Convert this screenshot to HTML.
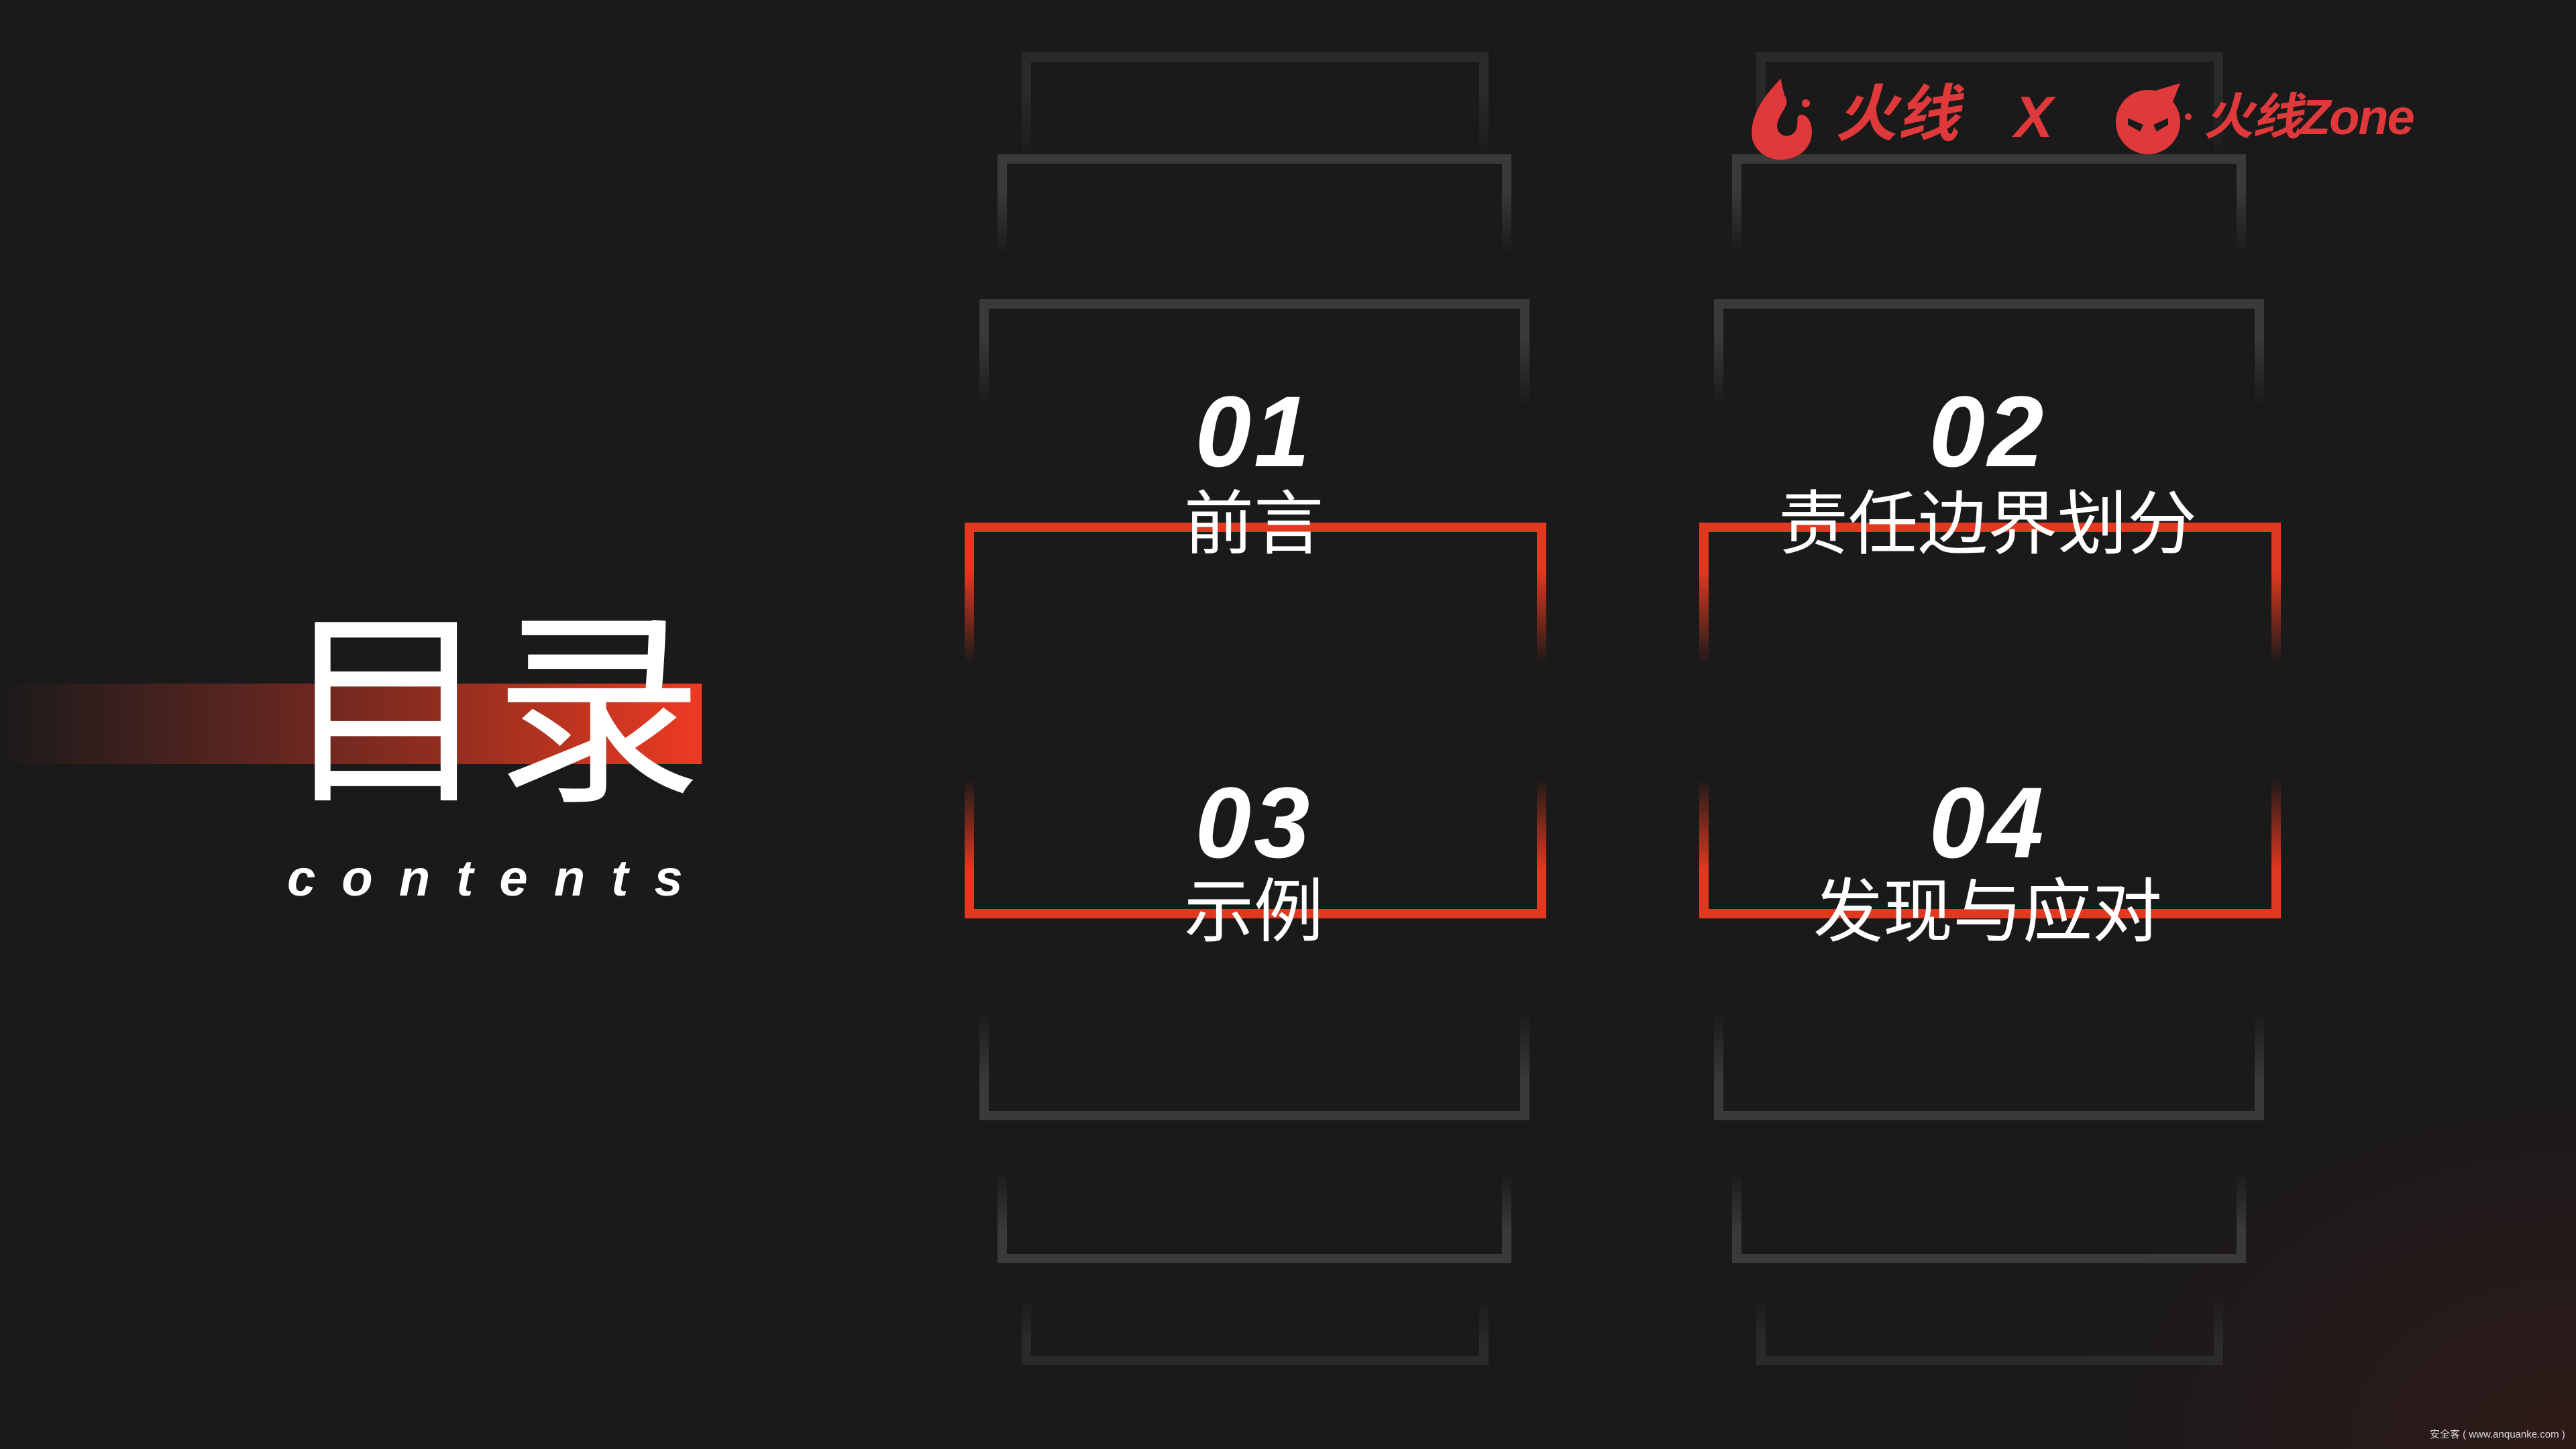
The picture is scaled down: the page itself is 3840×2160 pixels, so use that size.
<!DOCTYPE html>
<html><head><meta charset="utf-8"><style>
html,body{margin:0;padding:0}
body{width:3840px;height:2160px;position:relative;overflow:hidden;background:#1a1a1a;font-family:"Liberation Sans","Noto Sans CJK SC",sans-serif}
.bg{position:absolute;inset:0;background:radial-gradient(ellipse 800px 600px at 3840px 2160px,rgba(70,28,24,.45),rgba(26,26,26,0) 100%)}
.b{position:absolute;box-sizing:border-box;border:14px solid #3a3a3a}
.t{border-bottom:none;-webkit-mask-image:linear-gradient(to bottom,#000 0%,#000 35%,transparent 100%);mask-image:linear-gradient(to bottom,#000 0%,#000 35%,transparent 100%)}
.u{border-top:none;-webkit-mask-image:linear-gradient(to top,#000 0%,#000 35%,transparent 100%);mask-image:linear-gradient(to top,#000 0%,#000 35%,transparent 100%)}
.r{border-color:#e0391f}
.dim{border-color:#2a2a2a}
.num{position:absolute;color:#fff;font-weight:bold;font-style:italic;font-size:150px;line-height:1;text-align:center;width:900px;letter-spacing:4px}
.cn{position:absolute;color:#fff;font-size:104px;line-height:1;text-align:center;width:900px}
</style></head><body>
<div class="bg"></div>
<div style="position:absolute;left:0;top:1019px;width:1046px;height:120px;background:linear-gradient(to right,rgba(60,25,22,0),#5a2520 35%,#a0301f 70%,#ee3a22)"></div>
<div style="position:absolute;left:420px;top:878px;color:#fff;font-size:312px;line-height:1;font-family:'Noto Sans CJK SC',sans-serif;letter-spacing:4px">目录</div>
<div style="position:absolute;left:428px;top:1272px;color:#fff;font-size:76px;font-weight:bold;font-style:italic;letter-spacing:39px;line-height:1">contents</div>

<!-- column 1 -->
<div class="b t dim" style="left:1523px;top:78px;width:696px;height:170px"></div>
<div class="b t" style="left:1487px;top:230px;width:766px;height:150px"></div>
<div class="b t" style="left:1460px;top:446px;width:820px;height:160px"></div>
<div class="b t r" style="left:1438px;top:779px;width:867px;height:210px"></div>
<div class="b u r" style="left:1438px;top:1160px;width:867px;height:209px"></div>
<div class="b u" style="left:1460px;top:1506px;width:820px;height:164px"></div>
<div class="b u" style="left:1487px;top:1745px;width:766px;height:138px"></div>
<div class="b u dim" style="left:1523px;top:1930px;width:696px;height:105px"></div>
<!-- column 2 -->
<div class="b t dim" style="left:2618px;top:78px;width:696px;height:170px"></div>
<div class="b t" style="left:2582px;top:230px;width:766px;height:150px"></div>
<div class="b t" style="left:2555px;top:446px;width:820px;height:160px"></div>
<div class="b t r" style="left:2533px;top:779px;width:867px;height:210px"></div>
<div class="b u r" style="left:2533px;top:1160px;width:867px;height:209px"></div>
<div class="b u" style="left:2555px;top:1506px;width:820px;height:164px"></div>
<div class="b u" style="left:2582px;top:1745px;width:766px;height:138px"></div>
<div class="b u dim" style="left:2618px;top:1930px;width:696px;height:105px"></div>

<div class="num" style="left:1419px;top:568px">01</div>
<div class="cn" style="left:1419px;top:730px">前言</div>
<div class="num" style="left:2513px;top:568px">02</div>
<div class="cn" style="left:2513px;top:730px">责任边界划分</div>
<div class="num" style="left:1419px;top:1151px">03</div>
<div class="cn" style="left:1419px;top:1308px">示例</div>
<div class="num" style="left:2513px;top:1151px">04</div>
<div class="cn" style="left:2513px;top:1308px">发现与应对</div>

<!-- logo -->
<svg style="position:absolute;left:2600px;top:112px" width="110" height="130" viewBox="0 0 110 130">
<path d="M55 5 C20 40 8 70 12 95 C18 120 45 128 60 126 C90 122 105 100 100 75 C96 60 85 55 80 62 C78 70 82 80 72 88 C60 96 45 85 50 70 C55 52 70 45 60 30 C58 20 55 12 55 5Z" fill="#e0393c"/>
<circle cx="92" cy="42" r="6" fill="#e0393c"/>
</svg>
<div style="position:absolute;left:2736px;top:125px;color:#e0393c;font-size:92px;font-weight:bold;font-style:italic;line-height:1">火线</div>
<div style="position:absolute;left:3003px;top:132px;color:#e0393c;font-size:86px;font-weight:bold;font-style:italic;line-height:1">X</div>
<svg style="position:absolute;left:3150px;top:124px" width="120" height="110" viewBox="0 0 120 110">
<circle cx="52" cy="58" r="48" fill="#e0393c"/>
<path d="M60 12 L100 0 L88 30Z" fill="#e0393c"/>
<path d="M22 52 L45 62 L40 72 L22 62Z M82 52 L60 62 L65 72 L82 62Z" fill="#1a1a1a"/>
<circle cx="112" cy="50" r="5" fill="#e0393c"/>
</svg>
<div style="position:absolute;left:3285px;top:138px;color:#e0393c;font-size:74px;font-weight:bold;font-style:italic;line-height:1;letter-spacing:-2px">火线Zone</div>

<div style="position:absolute;left:3622px;top:2131px;color:#ddd;font-size:15px;line-height:1">安全客 ( www.anquanke.com )</div>
</body></html>
